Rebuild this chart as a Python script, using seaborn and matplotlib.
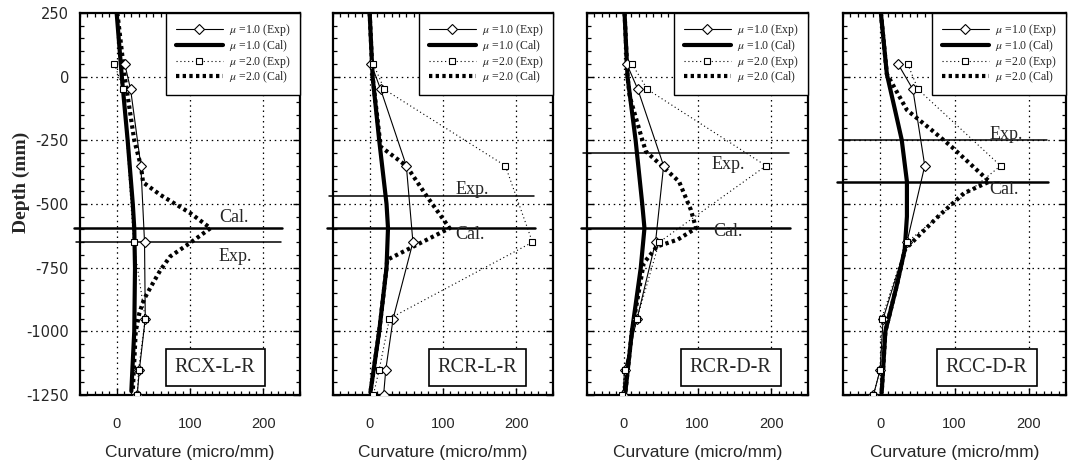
import matplotlib
matplotlib.use("Agg")
import matplotlib.pyplot as plt
import seaborn as sns
from matplotlib.ticker import MultipleLocator

# ---------------- data ----------------
depth_exp = [50, -50, -350, -650, -950, -1150, -1250]

# RCX-L-R
rcx_mu1_exp = [11, 19, 33, 38, 39, 31, 28]
rcx_mu2_exp_depth = [50, -50, -650, -950, -1150, -1250]
rcx_mu2_exp = [-3, 9, 23, 39, 30, 28]
rcx_mu1_cal_depth = [250, 0, -250, -500, -595, -750, -1000, -1235]
rcx_mu1_cal = [0, 7, 15, 22, 24, 25, 24, 20]
rcx_mu2_cal_depth = [250, 0, -250, -350, -415, -465, -535, -595, -653, -706, -758, -823, -876, -928, -1000, -1235]
rcx_mu2_cal = [1, 11, 24, 33, 36, 60, 100, 128, 100, 73, 60, 47, 37, 31, 26, 22]

# RCR-L-R
rcrl_mu1_exp = [2, 15, 50, 59, 32, 22, 19]
rcrl_mu2_exp = [5, 20, 185, 222, 27, 13, 5]
rcrl_mu1_cal_depth = [250, 0, -250, -500, -595, -750, -1000, -1240]
rcrl_mu1_cal = [0, 4, 13, 23, 25, 23, 13, 1]
rcrl_mu2_cal_depth = [250, 0, -275, -350, -470, -595, -719, -750, -1000, -1240]
rcrl_mu2_cal = [0, 4, 15, 50, 78, 109, 24, 23, 13, 1]

# RCR-D-R
rcrd_mu1_exp = [4, 19, 54, 43, 18, 1, -1]
rcrd_mu2_exp = [11, 32, 193, 48, 18, 1, -2]
rcrd_mu1_cal_depth = [250, 0, -250, -500, -595, -750, -1000, -1240]
rcrd_mu1_cal = [1, 5, 16, 25, 28, 23, 11, 2]
rcrd_mu2_cal_depth = [250, 0, -78, -248, -294, -359, -412, -523, -595, -640, -667, -732, -1000, -1240]
rcrd_mu2_cal = [1, 5, 8, 25, 30, 55, 75, 91, 98, 73, 45, 27, 11, 2]

# RCC-D-R
rcc_mu1_exp = [24, 44, 60, 36, 4, 0, -9]
rcc_mu2_exp = [37, 51, 162, 36, 2, 0, -9]
rcc_mu1_cal_depth = [250, 10, -131, -248, -412, -549, -680, -824, -1000, -1242]
rcc_mu1_cal = [1, 9, 20, 29, 36, 36, 33, 22, 7, 2]
rcc_mu2_cal_depth = [250, 10, -26, -131, -209, -275, -412, -457, -549, -627, -680, -824, -1000, -1242]
rcc_mu2_cal = [1, 9, 16, 36, 69, 96, 147, 113, 78, 51, 33, 22, 7, 2]

specimens = ["RCX-L-R", "RCR-L-R", "RCR-D-R", "RCC-D-R"]
exp_line_depth = [-650, -470, -300, -250]
cal_line_depth = [-595, -595, -595, -412]
legend_labels = [r"$\mu$ =1.0 (Exp)", r"$\mu$ =1.0 (Cal)", r"$\mu$ =2.0 (Exp)", r"$\mu$ =2.0 (Cal)"]
x_ticks = [0, 100, 200]
y_ticks = [250, 0, -250, -500, -750, -1000, -1250]

panels = [
    (depth_exp, rcx_mu1_exp, rcx_mu2_exp_depth, rcx_mu2_exp, rcx_mu1_cal_depth, rcx_mu1_cal, rcx_mu2_cal_depth, rcx_mu2_cal),
    (depth_exp, rcrl_mu1_exp, depth_exp, rcrl_mu2_exp, rcrl_mu1_cal_depth, rcrl_mu1_cal, rcrl_mu2_cal_depth, rcrl_mu2_cal),
    (depth_exp, rcrd_mu1_exp, depth_exp, rcrd_mu2_exp, rcrd_mu1_cal_depth, rcrd_mu1_cal, rcrd_mu2_cal_depth, rcrd_mu2_cal),
    (depth_exp, rcc_mu1_exp, depth_exp, rcc_mu2_exp, rcc_mu1_cal_depth, rcc_mu1_cal, rcc_mu2_cal_depth, rcc_mu2_cal),
]

# text placement (data coords) for Exp./Cal. labels
exp_text_pos = [(162, -706), (140, -444), (141, -346), (169, -229)]
cal_text_pos = [(160, -554), (137, -621), (141, -608), (167, -444)]
name_box_x = [0.614, 0.657, 0.650, 0.644]

# ---------------- style ----------------
sns.set_style("ticks")
plt.rcParams["font.family"] = ["Liberation Serif", "DejaVu Serif"]
plt.rcParams["mathtext.fontset"] = "stix"
plt.rcParams["axes.unicode_minus"] = False

fig = plt.figure(figsize=(10.69, 4.66), dpi=100)
H = 466.0
W = 1069.0
bottom = (H - 395) / H
height = 382 / H
lefts = [80, 333, 587, 843]
widths = [220, 220, 221, 223]

for i, (dexp, m1e, d2e, m2e, d1c, m1c, d2c, m2c) in enumerate(panels):
    ax = fig.add_axes([lefts[i] / W, bottom, widths[i] / W, height])
    ax.set_xlim(-50, 250)
    ax.set_ylim(-1250, 250)

    # grid
    for gx in x_ticks:
        ax.axvline(gx, color="black", lw=0.9, ls=(0, (1.2, 3.0)), zorder=0.5)
    for gy in y_ticks[1:-1]:
        ax.axhline(gy, color="black", lw=0.9, ls=(0, (1.2, 3.0)), zorder=0.5)

    # series
    sns.lineplot(x=m1e, y=dexp, sort=False, estimator=None, ax=ax, color="black",
                 lw=0.8, marker="D", markersize=5.5, markerfacecolor="white",
                 markeredgecolor="black", markeredgewidth=0.8, label=legend_labels[0], zorder=4)
    sns.lineplot(x=m1c, y=d1c, sort=False, estimator=None, ax=ax, color="black",
                 lw=3.0, label=legend_labels[1], zorder=3)
    sns.lineplot(x=m2e, y=d2e, sort=False, estimator=None, ax=ax, color="black",
                 lw=0.8, ls=(0, (1.0, 2.5)), marker="s", markersize=5, markerfacecolor="white",
                 markeredgecolor="black", markeredgewidth=0.8, label=legend_labels[2], zorder=4)
    sns.lineplot(x=m2c, y=d2c, sort=False, estimator=None, ax=ax, color="black",
                 lw=3.0, ls=(0, (0.8, 0.8)), label=legend_labels[3], zorder=3)

    # Exp. / Cal. horizontal lines
    ax.plot([-55, 224], [exp_line_depth[i]] * 2, color="black", lw=1.1, clip_on=False, zorder=2)
    ax.plot([-58, 226], [cal_line_depth[i]] * 2, color="black", lw=1.8, clip_on=False, zorder=2)
    ax.text(*exp_text_pos[i], "Exp.", ha="center", va="center", fontsize=13)
    ax.text(*cal_text_pos[i], "Cal.", ha="center", va="center", fontsize=13)

    # specimen name box
    ax.text(name_box_x[i], 0.072, specimens[i], transform=ax.transAxes, ha="center", va="center",
            fontsize=14.5, zorder=6,
            bbox=dict(boxstyle="square,pad=0.45", facecolor="white", edgecolor="black", lw=1.2))

    # legend
    leg = ax.legend(loc="upper right", bbox_to_anchor=(1.0, 1.0), borderaxespad=0,
                    fontsize=8.5, handlelength=4.0, labelspacing=0.0, borderpad=0.8,
                    handletextpad=0.5, fancybox=False, framealpha=1, edgecolor="black")
    leg.get_frame().set_linewidth(1.0)
    leg.set_zorder(7)

    # ticks
    ax.set_xticks(x_ticks)
    ax.set_yticks(y_ticks)
    ax.xaxis.set_minor_locator(MultipleLocator(10))
    ax.yaxis.set_minor_locator(MultipleLocator(50))
    ax.tick_params(which="both", direction="in", top=True, right=True, color="black")
    ax.tick_params(which="major", length=5, width=1.0)
    ax.tick_params(which="minor", length=3, width=0.9)
    ax.tick_params(axis="x", which="major", pad=16, labelsize=10.5)
    for lab in ax.get_xticklabels():
        lab.set_family("Liberation Sans")
    if i == 0:
        ax.tick_params(axis="y", which="major", pad=8, labelsize=10.5)
        for lab in ax.get_yticklabels():
            lab.set_family("DejaVu Sans")
        ax.set_ylabel("Depth (mm)", fontsize=14, fontweight="bold")
        ax.yaxis.set_label_coords(-0.225, 0.557)
    else:
        ax.tick_params(axis="y", labelleft=False)
        ax.set_ylabel("")
    ax.set_xlabel("Curvature (micro/mm)", fontsize=12.5, family="Liberation Sans", labelpad=10)
    for sp in ax.spines.values():
        sp.set_visible(True)
        sp.set_linewidth(1.6)
        sp.set_color("black")

fig.savefig("out.png", dpi=100)
